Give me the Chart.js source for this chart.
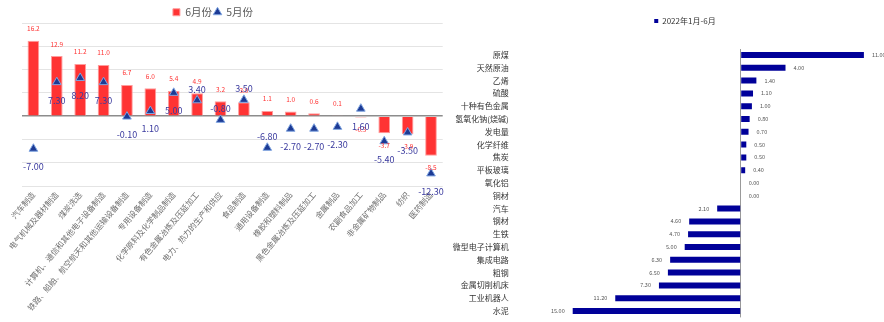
<!DOCTYPE html>
<html>
<head>
<meta charset="utf-8">
<script src="https://cdn.jsdelivr.net/npm/chart.js@4.4.0/dist/chart.umd.min.js"></script>
<style>
  html, body { margin: 0; padding: 0; background: #fff; overflow: hidden; width: 884px; height: 322px; }
  #left { position: absolute; left: 0; top: 0; }
  #right { position: absolute; left: 450px; top: 0; }
</style>
</head>
<body>
<canvas id="left" width="450" height="322"></canvas>
<canvas id="right" width="474" height="322"></canvas>
<script>
const FONT = '"Noto Sans CJK SC", "Noto Sans", sans-serif';

// 左图：分行业增加值增速（%）
const hangye = [
  '汽车制造', '电气机械及器材制造', '煤炭洗选', '计算机、通信和其他电子设备制造',
  '铁路、船舶、航空航天和其他运输设备制造', '专用设备制造', '化学原料及化学制品制造',
  '有色金属冶炼及压延加工', '电力、热力的生产和供应', '食品制造', '通用设备制造',
  '橡胶和塑料制品', '黑色金属冶炼及压延加工', '金属制品', '农副食品加工',
  '非金属矿物制品', '纺织', '医药制造'
];
const juneVals = [16.2, 12.9, 11.2, 11.0, 6.7, 6.0, 5.4, 4.9, 3.2, 3.0, 1.1, 1.0, 0.6, 0.1, -0.3, -3.7, -3.9, -8.5];
const mayVals = [-7.0, 7.3, 8.2, 7.3, -0.1, 1.1, 5.0, 3.4, -0.8, 3.5, -6.8, -2.7, -2.7, -2.3, 1.6, -5.4, -3.5, -12.3];

// 右图：主要产品产量增速（%）
const chanpin = [
  '原煤', '天然原油', '乙烯', '硫酸', '十种有色金属', '氢氧化钠(烧碱)', '发电量',
  '化学纤维', '焦炭', '平板玻璃', '氧化铝', '铜材', '汽车', '钢材', '生铁',
  '微型电子计算机', '集成电路', '粗钢', '金属切削机床', '工业机器人', '水泥'
];
const chanliang = [11.0, 4.0, 1.4, 1.1, 1.0, 0.8, 0.7, 0.5, 0.5, 0.4, 0.0, 0.0, -2.1, -4.6, -4.7, -5.0, -6.3, -6.5, -7.3, -11.2, -15.0];

// 这几个5月份标签放在三角上方
const LABEL_ABOVE = [7, 8, 9, 10];

function labelPlugin(id, list) {
  return {
    id: id,
    afterDatasetsDraw(chart) {
      const ctx = chart.ctx;
      list.forEach(item => {
        const meta = chart.getDatasetMeta(item.dataset);
        const values = chart.data.datasets[item.dataset].data;
        ctx.save();
        ctx.font = item.font;
        ctx.fillStyle = item.color;
        ctx.textBaseline = 'middle';
        meta.data.forEach((el, i) => {
          const p = item.place(el, values[i], i);
          ctx.textAlign = p.align || 'center';
          ctx.fillText(item.text(values[i]), p.x, p.y);
        });
        ctx.restore();
      });
    }
  };
}

const leftLabels = labelPlugin('leftLabels', [
  {
    dataset: 0, font: '6.5px ' + FONT, color: '#ff3333',
    text: v => v.toFixed(1),
    place: (el, v) => ({ x: el.x, y: v >= 0 ? el.y - 12 : el.y + 12 })
  },
  {
    dataset: 1, font: '9px ' + FONT, color: '#3a3a9e',
    text: v => v.toFixed(2),
    place: (el, v, i) => ({ x: el.x, y: LABEL_ABOVE.includes(i) ? el.y - 11 : el.y + 18 })
  }
]);

const rightLabels = labelPlugin('rightLabels', [
  {
    dataset: 0, font: '5.5px ' + FONT, color: '#555',
    text: v => Math.abs(v).toFixed(2),
    place: (el, v) => v >= 0 ? { x: el.x + 8, y: el.y, align: 'left' } : { x: el.x - 8, y: el.y, align: 'right' }
  }
]);

new Chart(document.getElementById('left'), {
  type: 'bar',
  data: {
    labels: hangye,
    datasets: [
      {
        label: '6月份',
        data: juneVals,
        backgroundColor: '#ff3333',
        borderColor: '#ff9c9c',
        borderWidth: 1,
        barPercentage: 0.5,
        categoryPercentage: 1,
        pointStyle: 'rect',
        order: 1
      },
      {
        type: 'line',
        label: '5月份',
        data: mayVals,
        showLine: false,
        pointStyle: 'triangle',
        pointRadius: 5,
        pointBackgroundColor: '#1c3a94',
        backgroundColor: '#1c3a94',
        pointBorderColor: '#7fa4e0',
        borderColor: '#7fa4e0',
        pointBorderWidth: 1,
        order: 0
      }
    ]
  },
  options: {
    responsive: false,
    animation: false,
    layout: { padding: { left: -16.7, right: 7.3, top: 5, bottom: 0 } },
    plugins: {
      legend: {
        maxHeight: 18,
        labels: {
          usePointStyle: true,
          boxWidth: 7,
          boxHeight: 7,
          padding: 2,
          color: '#595959',
          font: { family: FONT, size: 10.5 },
          sort: (a, b) => a.datasetIndex - b.datasetIndex
        }
      },
      tooltip: { enabled: false }
    },
    scales: {
      x: {
        grid: { display: false, drawTicks: false },
        border: { display: false },
        ticks: {
          autoSkip: false,
          minRotation: 50,
          maxRotation: 50,
          padding: 4,
          color: '#707070',
          font: { family: FONT, size: 8 }
        },
        afterFit: s => { s.height = 136; s.paddingLeft = 0; s.paddingRight = 0; }
      },
      y: {
        min: -15,
        max: 20,
        ticks: { display: false, stepSize: 5 },
        grid: {
          drawTicks: false,
          color: c => c.tick.value === 0 ? '#8c8c8c' : '#e4e4e4',
          lineWidth: c => c.tick.value === 0 ? 1.5 : 1
        },
        border: { display: false },
        afterFit: s => { s.width = 38.4; }
      }
    }
  },
  plugins: [leftLabels]
});

new Chart(document.getElementById('right'), {
  type: 'bar',
  data: {
    labels: chanpin,
    datasets: [{
      label: '2022年1月-6月',
      data: chanliang,
      backgroundColor: '#000099',
      borderWidth: 0,
      barPercentage: 0.47,
      categoryPercentage: 1
    }]
  },
  options: {
    indexAxis: 'y',
    responsive: false,
    animation: false,
    layout: { padding: { left: 0, right: 4.1, top: 0, bottom: 4.6 } },
    plugins: {
      legend: {
        labels: {
          boxWidth: 4,
          boxHeight: 4,
          padding: 17,
          color: '#333',
          font: { family: FONT, size: 8 }
        }
      },
      tooltip: { enabled: false }
    },
    scales: {
      x: {
        position: 'top',
        min: -20,
        max: 16,
        ticks: { display: false, stepSize: 4 },
        grid: {
          drawTicks: false,
          color: c => c.tick.value === 0 ? '#9a9a9a' : 'rgba(0,0,0,0)'
        },
        border: { display: false },
        afterFit: s => { s.height = 13.6; }
      },
      y: {
        ticks: { autoSkip: false, padding: 8, color: '#333', font: { family: FONT, size: 8 } },
        grid: { display: false, drawTicks: false },
        border: { display: false },
        afterFit: s => { s.width = 66.7; s.paddingTop = 0; s.paddingBottom = 0; }
      }
    }
  },
  plugins: [rightLabels]
});
</script>
</body>
</html>
